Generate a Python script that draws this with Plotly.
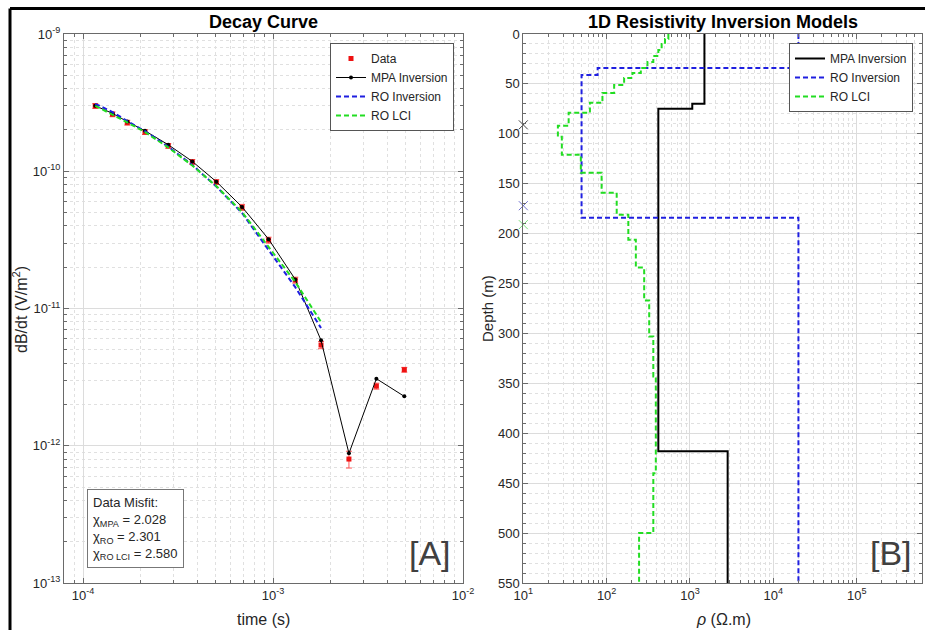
import plotly.graph_objects as go

# ---------------- Decay curve (panel A) ----------------
time_s = [1.16e-4, 1.43e-4, 1.71e-4, 2.12e-4, 2.81e-4, 3.76e-4, 5.03e-4,
          6.87e-4, 9.48e-4, 1.31e-3, 1.79e-3, 2.51e-3, 3.50e-3, 4.91e-3]
data_dbdt = [2.99e-10, 2.60e-10, 2.26e-10, 1.93e-10, 1.53e-10, 1.17e-10, 8.35e-11,
             5.46e-11, 3.15e-11, 1.61e-11, 5.42e-12, 8.0e-13, 2.72e-12, 3.58e-12]
data_err_pct = [4, 4, 4, 4, 4, 4, 4, 5, 5, 5, 6, 14, 5, 4]
mpa_dbdt = [3.00e-10, 2.64e-10, 2.30e-10, 1.97e-10, 1.56e-10, 1.18e-10, 8.4e-11,
            5.5e-11, 3.2e-11, 1.63e-11, 5.86e-12, 8.8e-13, 3.08e-12, 2.29e-12]
ro_dbdt = [3.10e-10, 2.70e-10, 2.32e-10, 1.96e-10, 1.51e-10, 1.11e-10, 7.74e-11,
           4.97e-11, 2.67e-11, 1.43e-11, 7.2e-12]
lci_dbdt = [3.00e-10, 2.60e-10, 2.27e-10, 1.93e-10, 1.49e-10, 1.10e-10, 7.8e-11,
            5.05e-11, 2.8e-11, 1.56e-11, 7.98e-12]
misfit_labels = ["MPA", "RO", "RO LCI"]
misfit_values = ["2.028", "2.301", "2.580"]

# ---------------- Resistivity models (panel B) ----------------
max_depth = 550
mpa_tops = [0, 70, 75, 418]
mpa_rho = [1490, 1065, 417, 2830]
ro_tops = [0, 34, 41, 184]
ro_rho = [20000, 78, 50, 20000]
lci_tops = [0, 5, 10, 16, 22, 28, 34, 39, 44, 51, 59, 69, 79, 92, 103, 121, 139,
            159, 181, 206, 234, 267, 303, 343, 440, 500]
lci_rho = [550, 501, 457, 417, 363, 309, 257, 204, 162, 123, 89, 63, 35, 26, 29, 49,
           87, 132, 182, 224, 282, 324, 363, 389, 363, 245]
doi_depths = [91, 172, 191]
doi_colors = ["#444444", "#6f6fd0", "#7be07b"]

FONT = "Liberation Sans, Arial, sans-serif"
TXT = "#262626"
W, H = 925, 630


def steps(tops, rhos, bottom):
    xs, ys = [], []
    bots = tops[1:] + [bottom]
    for t, b, r in zip(tops, bots, rhos):
        xs += [r, r]
        ys += [t, b]
    return xs, ys


fig = go.Figure()

err_up = [v * p / 100 for v, p in zip(data_dbdt, data_err_pct)]
fig.add_trace(go.Scatter(
    x=time_s, y=data_dbdt, mode="markers", name="Data",
    marker=dict(color="#ee1111", size=5, symbol="square"),
    error_y=dict(type="data", array=err_up, arrayminus=err_up,
                 color="#ff5555", thickness=1, width=3),
    xaxis="x", yaxis="y", legend="legend"))
fig.add_trace(go.Scatter(
    x=time_s, y=mpa_dbdt, mode="lines+markers", name="MPA Inversion",
    line=dict(color="black", width=1), marker=dict(color="black", size=4),
    xaxis="x", yaxis="y", legend="legend"))
fig.add_trace(go.Scatter(
    x=time_s[:len(ro_dbdt)], y=ro_dbdt, mode="lines", name="RO Inversion",
    line=dict(color="#1f1fe0", width=2, dash="5px,3px"),
    xaxis="x", yaxis="y", legend="legend"))
fig.add_trace(go.Scatter(
    x=time_s[:len(lci_dbdt)], y=lci_dbdt, mode="lines", name="RO LCI",
    line=dict(color="#22dd22", width=2, dash="5px,3px"),
    xaxis="x", yaxis="y", legend="legend"))

for name, tops, rhos, style in [
    ("MPA Inversion", mpa_tops, mpa_rho, dict(color="black", width=2)),
    ("RO Inversion", ro_tops, ro_rho, dict(color="#1f1fe0", width=2, dash="5px,3px")),
    ("RO LCI", lci_tops, lci_rho, dict(color="#22dd22", width=2, dash="5px,3px")),
]:
    xs, ys = steps(tops, rhos, max_depth)
    fig.add_trace(go.Scatter(x=xs, y=ys, mode="lines", name=name, line=style,
                             xaxis="x2", yaxis="y2", legend="legend2"))

fig.add_trace(go.Scatter(
    x=[10] * len(doi_depths), y=doi_depths, mode="markers", showlegend=False,
    marker=dict(symbol="x-thin", size=9, line=dict(width=1, color=doi_colors)),
    cliponaxis=False, xaxis="x2", yaxis="y2"))

minor_log_t = [m * 10 ** e for e in range(-5, -1) for m in range(2, 10)]
minor_log_y = [m * 10.0 ** e for e in range(-14, -8) for m in range(2, 10)]
minor_log_r = [m * 10 ** e for e in range(0, 6) for m in range(2, 10)]

grid_major = "#dcdcdc"
grid_minor = "#e0e0e0"
axis_common = dict(
    showline=True, linecolor="#6a6a6a", linewidth=1, mirror="allticks",
    ticks="inside", ticklen=5, tickcolor="#6a6a6a", showgrid=True,
    gridcolor=grid_major, gridwidth=1, zeroline=False, automargin=False,
    tickfont=dict(family=FONT, size=13, color=TXT),
)

xd1 = [64 / W, 463 / W]
xd2 = [523.3 / W, 921.7 / W]
yd = [1 - 583 / H, 1 - 34 / H]

fig.update_layout(
    width=W, height=H, margin=dict(l=0, r=0, t=0, b=0),
    paper_bgcolor="white", plot_bgcolor="white",
    font=dict(family=FONT, color=TXT),
    xaxis=dict(axis_common, type="log", domain=xd1, range=[-4.1, -2.0], anchor="y",
               tickmode="array", tickvals=[1e-4, 1e-3, 1e-2],
               ticktext=["10<sup>-4</sup>", "10<sup>-3</sup>", "10<sup>-2</sup>"],
               minor=dict(tickmode="array", tickvals=minor_log_t, ticks="inside",
                          ticklen=3, showgrid=True, gridcolor=grid_minor, griddash="dot")),
    yaxis=dict(axis_common, type="log", domain=yd, range=[-13, -9], anchor="x",
               tickmode="array", tickvals=[1e-13, 1e-12, 1e-11, 1e-10, 1e-9],
               ticktext=["10<sup>-13</sup>", "10<sup>-12</sup>", "10<sup>-11</sup>",
                         "10<sup>-10</sup>", "10<sup>-9</sup>"],
               minor=dict(tickmode="array", tickvals=minor_log_y, ticks="inside",
                          ticklen=3, showgrid=True, gridcolor=grid_minor, griddash="dot")),
    xaxis2=dict(axis_common, type="log", domain=xd2, range=[1, 5.78], anchor="y2",
                tickmode="array", tickvals=[1e1, 1e2, 1e3, 1e4, 1e5],
                ticktext=["10<sup>1</sup>", "10<sup>2</sup>", "10<sup>3</sup>",
                          "10<sup>4</sup>", "10<sup>5</sup>"],
                minor=dict(tickmode="array", tickvals=minor_log_r, ticks="inside",
                           ticklen=3, showgrid=True, gridcolor=grid_minor, griddash="dot")),
    yaxis2=dict(axis_common, domain=yd, range=[550, 0], anchor="x2",
                tickmode="linear", tick0=0, dtick=50,
                minor=dict(dtick=10, ticks="inside", ticklen=3, showgrid=True,
                           gridcolor=grid_minor, griddash="dot")),
    legend=dict(x=454 / W, y=1 - 43 / H, xanchor="right", yanchor="top",
                bgcolor="white", bordercolor="#555", borderwidth=1,
                font=dict(family=FONT, size=12, color=TXT), tracegroupgap=0),
    legend2=dict(x=913 / W, y=1 - 43 / H, xanchor="right", yanchor="top",
                 bgcolor="white", bordercolor="#555", borderwidth=1,
                 font=dict(family=FONT, size=12, color=TXT), tracegroupgap=0),
    showlegend=True,
)


def label(text, x, y, size=16, color=TXT, angle=0, **kw):
    d = dict(text=text, x=x / W, y=1 - y / H, xref="paper", yref="paper",
             xanchor="center", yanchor="middle", showarrow=False, textangle=angle,
             font=dict(family=FONT, size=size, color=color))
    d.update(kw)
    return d


ann = [
    label("<b>Decay Curve</b>", 263, 22, 18, "black"),
    label("<b>1D Resistivity Inversion Models</b>", 723, 22, 18, "black"),
    label("time (s)", 263, 619, 16),
    label("<i>ρ</i> (Ω.m)", 723, 619, 16),
    label("dB/dt (V/m<sup>2</sup>)", 20, 310, 16, angle=-90),
    label("Depth (m)", 487, 308, 15, angle=-90),
]
misfit_lines = ["Data Misfit:"] + [f"χ<sub>{l}</sub> = {v}" for l, v in zip(misfit_labels, misfit_values)]
ann.append(dict(text="<br>".join(misfit_lines), x=87 / W, y=1 - 489 / H, xref="paper",
                yref="paper", xanchor="left", yanchor="top", align="left", showarrow=False,
                bgcolor="white", bordercolor="#777", borderwidth=1, borderpad=5,
                font=dict(family=FONT, size=13, color=TXT)))
ann.append(label("[A]", 453, 574, 34, "#404040", xanchor="right", yanchor="bottom"))
ann.append(label("[B]", 914, 574, 34, "#404040", xanchor="right", yanchor="bottom"))
fig.update_layout(annotations=ann)

fig.update_layout(shapes=[
    dict(type="line", xref="paper", yref="paper", x0=10 / W, x1=1, y0=1 - 8.5 / H, y1=1 - 8.5 / H,
         line=dict(color="black", width=3)),
    dict(type="line", xref="paper", yref="paper", x0=10 / W, x1=10 / W, y0=0, y1=1 - 8.5 / H,
         line=dict(color="black", width=3)),
])

fig.write_html("out.html", config={"displayModeBar": False},
               post_script="document.body.style.margin='0';document.body.style.overflow='hidden';")
